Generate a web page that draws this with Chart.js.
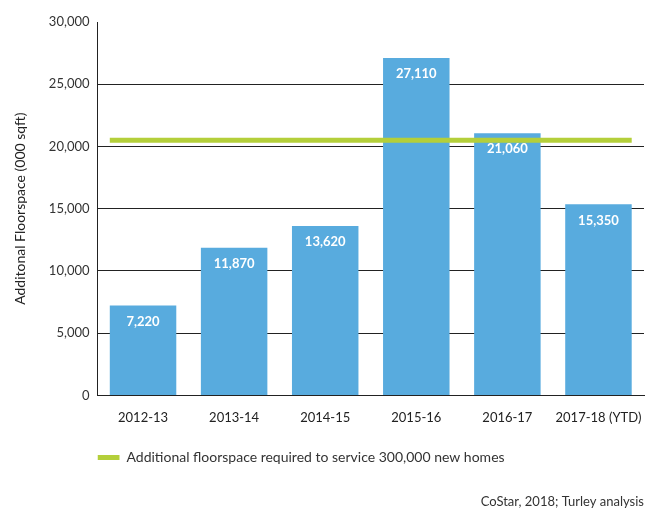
<!DOCTYPE html>
<html>
<head>
<meta charset="utf-8">
<script src="https://cdn.jsdelivr.net/npm/chart.js@4"></script>
<style>
  html, body { margin: 0; padding: 0; background: #fff; }
</style>
</head>
<body>
<canvas id="floorspace" width="660" height="513"></canvas>
<script>
const years = ['2012-13', '2013-14', '2014-15', '2015-16', '2016-17', '2017-18 (YTD)'];
const floorspace = [7220, 11870, 13620, 27110, 21060, 15350];
const required = [20500, 20500, 20500, 20500, 20500, 20500];
const yTicks = [0, 5000, 10000, 15000, 20000, 25000, 30000];

const blue = '#58abde';
const green = '#b4cf3a';
const fmt = (v) => v.toLocaleString('en-US');

// etiquetas blancas dentro de cada barra + linea verde de borde a borde
const barExtras = {
  id: 'barExtras',
  afterDatasetsDraw(chart) {
    const ctx = chart.ctx;
    const bars = chart.getDatasetMeta(0).data;
    ctx.save();
    ctx.fillStyle = '#fff';
    ctx.font = 'bold 13px Lato';
    ctx.textAlign = 'center';
    ctx.textBaseline = 'middle';
    bars.forEach((bar, i) => {
      ctx.fillText(fmt(floorspace[i]), bar.x, bar.y + 16);
    });
    const first = bars[0];
    const last = bars[bars.length - 1];
    const y = chart.scales.y.getPixelForValue(required[0]);
    ctx.strokeStyle = green;
    ctx.lineWidth = 5;
    ctx.beginPath();
    ctx.moveTo(first.x - first.width / 2, y);
    ctx.lineTo(last.x + last.width / 2, y);
    ctx.stroke();
    ctx.restore();
  },
};

new Chart(document.getElementById('floorspace'), {
  type: 'bar',
  plugins: [barExtras],
  data: {
    labels: years,
    datasets: [
      {
        label: 'Floorspace',
        data: floorspace,
        backgroundColor: blue,
        barPercentage: 0.73,
        categoryPercentage: 1,
      },
      {
        type: 'line',
        label: 'Additional floorspace required to service 300,000 new homes',
        data: required,
        backgroundColor: green,
        borderColor: green,
        borderWidth: 0,
        showLine: false,
        pointRadius: 0,
      },
    ],
  },
  options: {
    responsive: false,
    animation: false,
    layout: {
      padding: { top: 22, right: 16, bottom: 0, left: 0 },
    },
    plugins: {
      tooltip: { enabled: false },
      legend: {
        position: 'bottom',
        align: 'start',
        fullSize: false,
        labels: {
          filter: (item) => item.datasetIndex === 1,
          boxWidth: 22,
          boxHeight: 5,
          padding: 0,
          color: '#333',
          font: { family: 'Lato', size: 14 },
        },
      },
      title: {
        display: true,
        position: 'bottom',
        align: 'end',
        fullSize: false,
        text: 'CoStar, 2018; Turley analysis',
        color: '#333',
        font: { family: 'Lato', size: 13, weight: 'normal' },
        padding: { top: 20, bottom: 3 },
      },
    },
    scales: {
      x: {
        grid: { display: false },
        border: { display: true, color: '#222', width: 1 },
        ticks: {
          color: '#222',
          padding: 7,
          maxRotation: 0,
          font: { family: 'Lato', size: 13 },
        },
        afterFit: (scale) => {
          scale.height = 55;
        },
      },
      y: {
        min: 0,
        max: 30000,
        afterBuildTicks: (scale) => {
          scale.ticks = yTicks.map((v) => ({ value: v }));
        },
        grid: {
          color: (c) => (c.tick && c.tick.value === 30000 ? 'rgba(0,0,0,0)' : '#222'),
          drawTicks: false,
          lineWidth: 1,
        },
        border: { display: true, color: '#222', width: 1 },
        ticks: {
          color: '#333',
          padding: 8,
          font: { family: 'Lato', size: 13 },
          callback: (v) => fmt(v),
        },
        title: {
          display: true,
          text: 'Additonal Floorspace (000 sqft)',
          color: '#222',
          font: { family: 'Lato', size: 14 },
          padding: { top: 12, bottom: 0 },
        },
        afterFit: (scale) => {
          scale.width = 97.5;
        },
      },
    },
  },
});
</script>
</body>
</html>
